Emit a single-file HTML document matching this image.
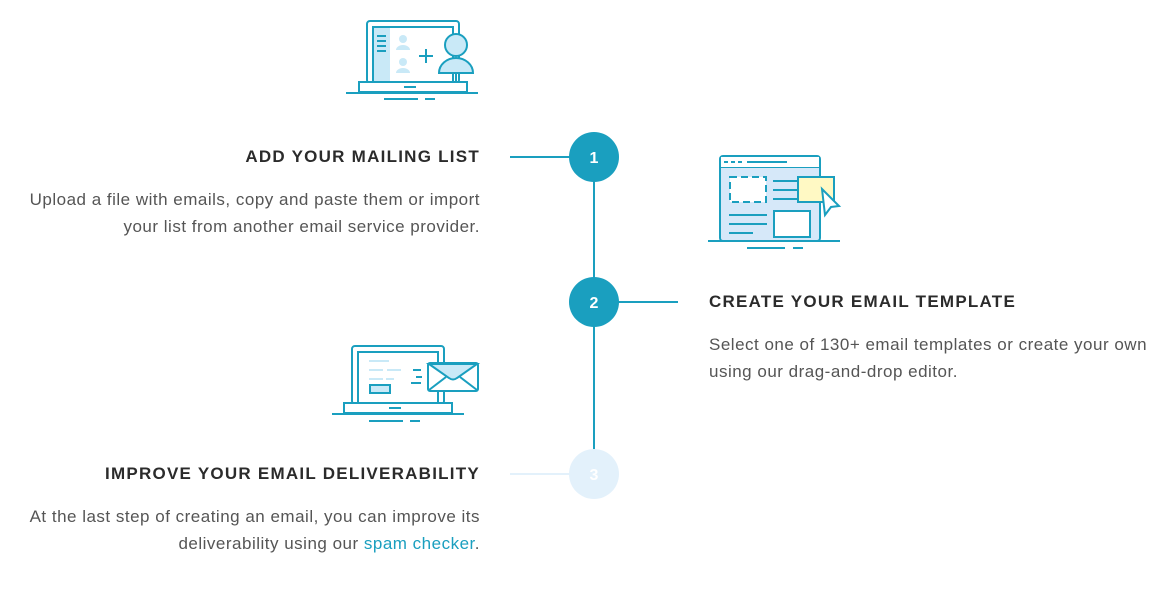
<!DOCTYPE html>
<html><head><style>
body{margin:0;width:1174px;height:593px;background:#fff;position:relative;font-family:"Liberation Sans",sans-serif;overflow:hidden}
.h{position:absolute;font-weight:bold;font-size:17px;letter-spacing:1.25px;color:#2b2b2b;white-space:nowrap}
.p{position:absolute;font-size:17px;letter-spacing:0.5px;line-height:27px;color:#555;white-space:nowrap}
.r{text-align:right}
</style></head><body>
<svg width="1174" height="593" style="position:absolute;left:0;top:0" fill="none" stroke-width="2">
<line x1="594" y1="157" x2="594" y2="450" stroke="#1a9fbf"/>
<line x1="510" y1="157" x2="570" y2="157" stroke="#1a9fbf"/>
<line x1="618" y1="302" x2="678" y2="302" stroke="#1a9fbf"/>
<line x1="510" y1="474" x2="570" y2="474" stroke="#e3f1fb"/>
<circle cx="594" cy="157" r="25" fill="#1a9fbf"/>
<circle cx="594" cy="302" r="25" fill="#1a9fbf"/>
<circle cx="594" cy="474" r="25" fill="#e3f1fb"/>
<g font-family="Liberation Sans" font-weight="bold" font-size="16" fill="#fff" text-anchor="middle">
<text x="594" y="163">1</text><text x="594" y="308">2</text><text x="594" y="480">3</text></g>
<g stroke="#1a9fbf">
<rect x="367" y="21" width="92" height="62" rx="3"/>
<rect x="373" y="27" width="80" height="56" fill="#fff"/>
<rect x="374" y="28" width="16" height="54" fill="#c9e9f7" stroke="none"/>
<path d="M377 36h9M377 41h9M377 46h9M377 51h9" />
<rect x="359" y="82" width="108" height="10" fill="#fff"/>
<path d="M346 93h132M384 99h34M425 99h10M404 87h12"/>
<path d="M419 56h14M426 49v14"/>
<circle cx="456" cy="45" r="11" fill="#c9e9f7"/>
<path d="M439 73a17 15 0 0 1 34 0z" fill="#c9e9f7"/>
<path d="M456 73v9"/>
</g>
<g fill="#c9e9f7"><circle cx="403" cy="39" r="4"/><path d="M396 50a7 5 0 0 1 14 0z"/><circle cx="403" cy="62" r="4"/><path d="M396 73a7 5 0 0 1 14 0z"/></g>
<g stroke="#1a9fbf">
<rect x="720" y="156" width="100" height="85" rx="3" fill="#d6e8f9"/>
<path d="M720 167h100" />
<rect x="721" y="157" width="98" height="10" fill="#fff" stroke="none"/>
<path d="M724 162h4M731 162h4M738 162h4M747 162h40"/>
<rect x="730" y="177" width="36" height="25" fill="#fff" stroke-dasharray="7 4"/>
<path d="M773 181h25M773 190h25M773 199h25M729 215h38M729 224h38M729 233h24"/>
<rect x="774" y="211" width="36" height="26" fill="#fff"/>
<rect x="798" y="177" width="36" height="25" fill="#fff9c4"/>
<path d="M822 189l17 17l-8 1l-6 8z" fill="#fff"/>
<path d="M708 241h132M747 248h38M793 248h10"/>
</g>
<g stroke="#1a9fbf">
<rect x="352" y="346" width="92" height="58" rx="3"/>
<rect x="358" y="352" width="80" height="52" fill="#fff"/>
<path d="M369 361h20M369 370h14M387 370h14M369 379h14M386 379h8" stroke="#c9e9f7"/>
<rect x="370" y="385" width="20" height="8" fill="#c9e9f7"/>
<rect x="344" y="403" width="108" height="10" fill="#fff"/>
<path d="M332 414h132M369 421h34M410 421h10M389 408h12M413 370h8M416 377h6M411 383h10"/>
<rect x="428" y="363" width="50" height="28" rx="2" fill="#fff"/>
<path d="M429 364l20 14q4 3 8 0l20-14z" fill="#c9e9f7"/>
<path d="M429 390l17-13M477 390l-17-13"/>
</g>
</svg>
<div class="h r" style="right:694px;top:147px">ADD YOUR MAILING LIST</div>
<div class="p r" style="right:694px;top:186px">Upload a file with emails, copy and paste them or import<br>your list from another email service provider.</div>
<div class="h" style="left:709px;top:292px">CREATE YOUR EMAIL TEMPLATE</div>
<div class="p" style="left:709px;top:331px">Select one of 130+ email templates or create your own<br>using our drag-and-drop editor.</div>
<div class="h r" style="right:694px;top:464px">IMPROVE YOUR EMAIL DELIVERABILITY</div>
<div class="p r" style="right:694px;top:503px">At the last step of creating an email, you can improve its<br>deliverability using our <span style="color:#1a9fbf">spam checker</span>.</div>
</body></html>
